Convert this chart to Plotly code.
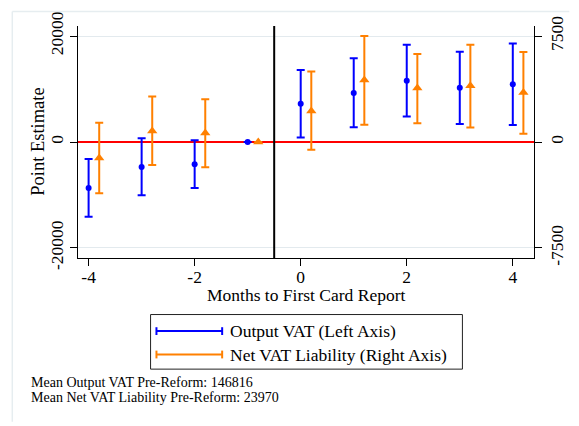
import plotly.graph_objects as go

# ---- data ----
months = [-4, -3, -2, -1, 0, 1, 2, 3, 4]
output_est = [-8700, -4700, -4200, 0, 7230, 9250, 11580, 10230, 10910]
output_hi = [-3230, 700, 330, None, 13600, 15820, 18340, 17050, 18580]
output_lo = [-14100, -10050, -8700, None, 830, 2800, 4830, 3410, 3230]
net_est = [-1140, 780, 640, 0, 2200, 4390, 3816, 3975, 3512]
net_hi = [1370, 3214, 3028, None, 4990, 7500, 6235, 6878, 6373]
net_lo = [-3630, -1624, -1784, None, -540, 1230, 1327, 1023, 588]
offset = 0.2
left_ticks = [-20000, 0, 20000]
left_tick_labels = ["-20000", "0", "20000"]
right_ticks = [-7500, 0, 7500]
right_tick_labels = ["-7500", "0", "7500"]
x_ticks = [-4, -2, 0, 2, 4]
x_tick_labels = ["-4", "-2", "0", "2", "4"]
legend_labels = ["Output VAT (Left Axis)", "Net VAT Liability (Right Axis)"]
notes = ["Mean Output VAT Pre-Reform: 146816", "Mean Net VAT Liability Pre-Reform: 23970"]

BLUE = "#0000ff"
ORANGE = "#ff8000"
FONT = "Liberation Serif"
TF = dict(family=FONT, size=17.5, color="black")

def up(est, hi):
    return [None if h is None else h - e for e, h in zip(est, hi)]

def down(est, lo):
    return [None if l is None else e - l for e, l in zip(est, lo)]

W, H = 579, 426
L, R, T, B = 78, 36, 20, 168
pw, ph = W - L - R, H - T - B
XR = [-4.2, 4.4]
YR = [-21900, 21900]
Y2_SCALE = 0.375

def px(x):
    return (x - L) / pw

def py(y):
    return (H - B - y) / ph

fig = go.Figure()
fig.add_trace(go.Scatter(
    x=months, y=output_est, mode="markers",
    marker=dict(color=BLUE, size=6, symbol="circle"),
    error_y=dict(type="data", array=up(output_est, output_hi),
                 arrayminus=down(output_est, output_lo),
                 color=BLUE, thickness=2, width=4, symmetric=False),
    showlegend=False))
fig.add_trace(go.Scatter(
    x=[m + offset for m in months], y=net_est, mode="markers", yaxis="y2",
    marker=dict(color=ORANGE, size=9, symbol="triangle-up"),
    error_y=dict(type="data", array=up(net_est, net_hi),
                 arrayminus=down(net_est, net_lo),
                 color=ORANGE, thickness=2, width=4, symmetric=False),
    showlegend=False))

shapes = []
# zero line and event line
shapes.append(dict(type="line", xref="x", yref="y", x0=XR[0], x1=XR[1], y0=0, y1=0,
                   line=dict(color="#ff0000", width=2), layer="between"))
shapes.append(dict(type="line", xref="x", yref="y", x0=-0.5, x1=-0.5, y0=YR[0], y1=YR[1],
                   line=dict(color="black", width=2), layer="between"))
# outer region border
shapes.append(dict(type="line", xref="paper", yref="paper", x0=px(11), x1=px(579), y0=py(5), y1=py(5),
                   line=dict(color="#e6edf0", width=1.5)))
shapes.append(dict(type="line", xref="paper", yref="paper", x0=px(11), x1=px(11), y0=py(5), y1=py(426),
                   line=dict(color="#e6edf0", width=1.5)))
# legend box
shapes.append(dict(type="rect", xref="paper", yref="paper", x0=px(152), x1=px(470), y0=py(316), y1=py(372),
                   line=dict(color="#222222", width=1), fillcolor="white"))
annotations = []
for i, (lab, col) in enumerate(zip(legend_labels, [BLUE, ORANGE])):
    yc = 333 + 24 * i
    shapes.append(dict(type="line", xref="paper", yref="paper", x0=px(158), x1=px(225), y0=py(yc), y1=py(yc),
                       line=dict(color=col, width=2)))
    for xe in (158, 225):
        shapes.append(dict(type="line", xref="paper", yref="paper", x0=px(xe), x1=px(xe), y0=py(yc - 4), y1=py(yc + 4),
                           line=dict(color=col, width=2)))
    annotations.append(dict(text=lab, xref="paper", yref="paper", x=px(231), y=py(yc), xanchor="left",
                            yanchor="middle", showarrow=False, font=TF))

for i, n in enumerate(notes):
    annotations.append(dict(text=n, xref="paper", yref="paper", x=px(28), y=py(386 + 15 * i), xanchor="left",
                            yanchor="middle", showarrow=False, font=dict(family=FONT, size=14, color="black")))

annotations.append(dict(text="Months to First Card Report", xref="paper", yref="paper", x=0.5, y=py(296),
                        xanchor="center", yanchor="middle", showarrow=False, font=TF))
annotations.append(dict(text="Point Estimate", xref="paper", yref="paper", x=px(37), y=py(139),
                        xanchor="center", yanchor="middle", textangle=-90, showarrow=False,
                        font=dict(family=FONT, size=18.5, color="black")))

fig.update_layout(
    width=W, height=H,
    margin=dict(l=L, r=R, t=T, b=B, pad=0),
    paper_bgcolor="white", plot_bgcolor="white",
    font=dict(family=FONT, size=17.5, color="black"),
    xaxis=dict(range=XR, tickvals=x_ticks, ticktext=x_tick_labels, ticks="outside", ticklen=7, tickwidth=1,
               tickcolor="black", showline=True, linecolor="black", linewidth=1.2, ticklabelstandoff=-4,
               showgrid=False, zeroline=False, tickfont=TF),
    yaxis=dict(range=YR, tickvals=left_ticks, ticktext=left_tick_labels, tickangle=-90,
               ticks="outside", ticklen=7,
               tickcolor="black", showline=True, linecolor="black", linewidth=1.2,
               showgrid=True, gridcolor="#e3eaee", gridwidth=1, zeroline=False, tickfont=TF),
    yaxis2=dict(range=[YR[0] * Y2_SCALE, YR[1] * Y2_SCALE], tickvals=right_ticks, ticktext=right_tick_labels,
                tickangle=-90, overlaying="y", side="right", ticks="outside", ticklen=7, tickcolor="black",
                showline=True, linecolor="black", linewidth=1.2, showgrid=False, zeroline=False,
                tickfont=TF),
    shapes=shapes, annotations=annotations,
)

fig.write_html("out.html")
